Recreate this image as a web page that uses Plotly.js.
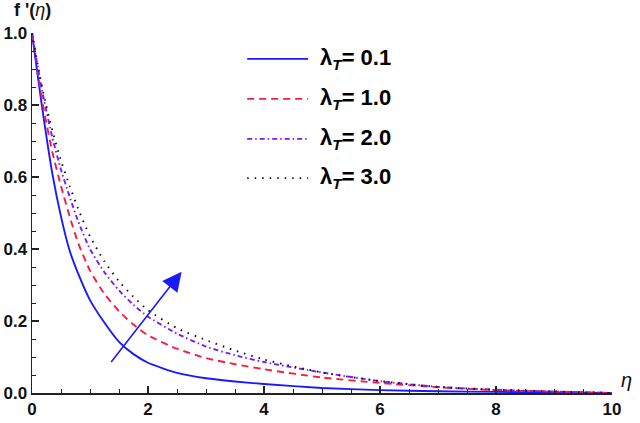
<!DOCTYPE html>
<html>
<head>
<meta charset="utf-8">
<script src="https://cdn.plot.ly/plotly-3.0.1.min.js"></script>
<style>
  html, body { margin: 0; padding: 0; background: #fff; }
  #chart { width: 640px; height: 423px; }
</style>
</head>
<body>
<div id="chart"></div>
<script>
    // eta grid
    var eta = [0, 0.1, 0.2, 0.35, 0.5, 0.65, 0.8, 1, 1.25, 1.5, 1.75, 2, 2.5, 3, 3.5, 4, 5, 6, 7, 8, 9, 10];

    // f'(eta) for each lambda_T
    var fp01 = [1.0, 0.88, 0.765, 0.61, 0.49, 0.395, 0.33, 0.258, 0.195, 0.142, 0.108, 0.084, 0.056, 0.041, 0.032, 0.025, 0.014, 0.008, 0.005, 0.003, 0.0015, 0.0];
    var fp10 = [1.0, 0.89, 0.79, 0.67, 0.575, 0.49, 0.415, 0.34, 0.275, 0.227, 0.19, 0.16, 0.123, 0.097, 0.08, 0.066, 0.043, 0.028, 0.016, 0.008, 0.004, 0.0];
    var fp20 = [1.0, 0.905, 0.82, 0.71, 0.62, 0.545, 0.475, 0.40, 0.335, 0.285, 0.245, 0.212, 0.165, 0.129, 0.105, 0.086, 0.057, 0.033, 0.017, 0.009, 0.004, 0.0];
    var fp30 = [1.0, 0.91, 0.83, 0.73, 0.645, 0.575, 0.51, 0.435, 0.365, 0.31, 0.267, 0.23, 0.18, 0.147, 0.118, 0.093, 0.057, 0.033, 0.017, 0.009, 0.004, 0.0];

    var names = ['0.1', '1.0', '2.0', '3.0'];
    var series = [fp01, fp10, fp20, fp30];
    var colors = ['#1a1aff', '#ff1a40', '#7a1aff', '#111111'];
    var dashes = ['solid', '7px,5px', '5px,3px,1.5px,3px', '1.5px,6px'];

    var font = 'Liberation Sans, Arial, sans-serif';

    var data = [];
    for (let i in series) {
        data.push({
            x: eta,
            y: series[i],
            type: 'scatter',
            mode: 'lines',
            line: {color: colors[i], dash: dashes[i], width: 1.9, shape: 'spline', smoothing: 0.6},
            showlegend: false,
            hoverinfo: 'skip'
        });
    }

    // hand-made legend (long sample lines like the original)
    var shapes = [];
    var annotations = [];
    var rowY = [0.928, 0.817, 0.706, 0.597];
    for (let i in names) {
        shapes.push({
            type: 'line', xref: 'paper', yref: 'paper',
            x0: 0.371, x1: 0.476, y0: rowY[i], y1: rowY[i],
            line: {color: colors[i], dash: dashes[i], width: 1.9}
        });
        annotations.push({
            xref: 'paper', yref: 'paper', x: 0.493, y: rowY[i],
            xanchor: 'left', yanchor: 'middle', showarrow: false,
            text: '<b>λ<sub><i>T</i></sub>= ' + names[i] + '</b>',
            font: {family: font, size: 22, color: '#000'}
        });
    }

    // axis labels
    annotations.push({
        xref: 'paper', yref: 'paper', x: -0.035, y: 1.03,
        xanchor: 'left', yanchor: 'bottom', showarrow: false,
        text: "<b>f '(</b><i>η</i><b>)</b>",
        font: {family: font, size: 18, color: '#111'}
    });
    annotations.push({
        xref: 'paper', yref: 'paper', x: 1.012, y: 0.0,
        xanchor: 'left', yanchor: 'bottom', showarrow: false,
        text: '<i>η</i>',
        font: {family: font, size: 20, color: '#111'}
    });

    // arrow showing increasing lambda_T
    annotations.push({
        x: 2.58, y: 0.337, ax: 1.345, ay: 0.082,
        xref: 'x', yref: 'y', axref: 'x', ayref: 'y',
        text: '', showarrow: true, arrowhead: 2, arrowsize: 2.4,
        arrowwidth: 1.6, arrowcolor: '#1a1aff'
    });

    var layout = {
        width: 640,
        height: 423,
        margin: {l: 32, r: 28, t: 33, b: 30},
        paper_bgcolor: '#fff',
        plot_bgcolor: '#fff',
        font: {family: font, color: '#111'},
        xaxis: {
            range: [0, 10],
            dtick: 2,
            showgrid: false,
            zeroline: false,
            showline: true,
            linecolor: '#222',
            linewidth: 1.5,
            ticks: 'inside',
            ticklen: 7,
            tickwidth: 1.3,
            tickcolor: '#222',
            minor: {dtick: 0.5, ticks: 'inside', ticklen: 4, tickwidth: 1, tickcolor: '#222', showgrid: false},
            tickfont: {family: font, size: 17, color: '#111', weight: 'bold'}
        },
        yaxis: {
            range: [0, 1],
            dtick: 0.2,
            tickformat: '.1f',
            showgrid: false,
            zeroline: false,
            showline: true,
            linecolor: '#222',
            linewidth: 1.5,
            ticks: 'inside',
            ticklen: 7,
            tickwidth: 1.3,
            tickcolor: '#222',
            minor: {dtick: 0.05, ticks: 'inside', ticklen: 4, tickwidth: 1, tickcolor: '#222', showgrid: false},
            tickfont: {family: font, size: 17, color: '#111', weight: 'bold'}
        },
        shapes: shapes,
        annotations: annotations
    };
    var config = {responsive: false, displayModeBar: false, staticPlot: true};
    Plotly.newPlot('chart', data, layout, config);
</script>
</body>
</html>
